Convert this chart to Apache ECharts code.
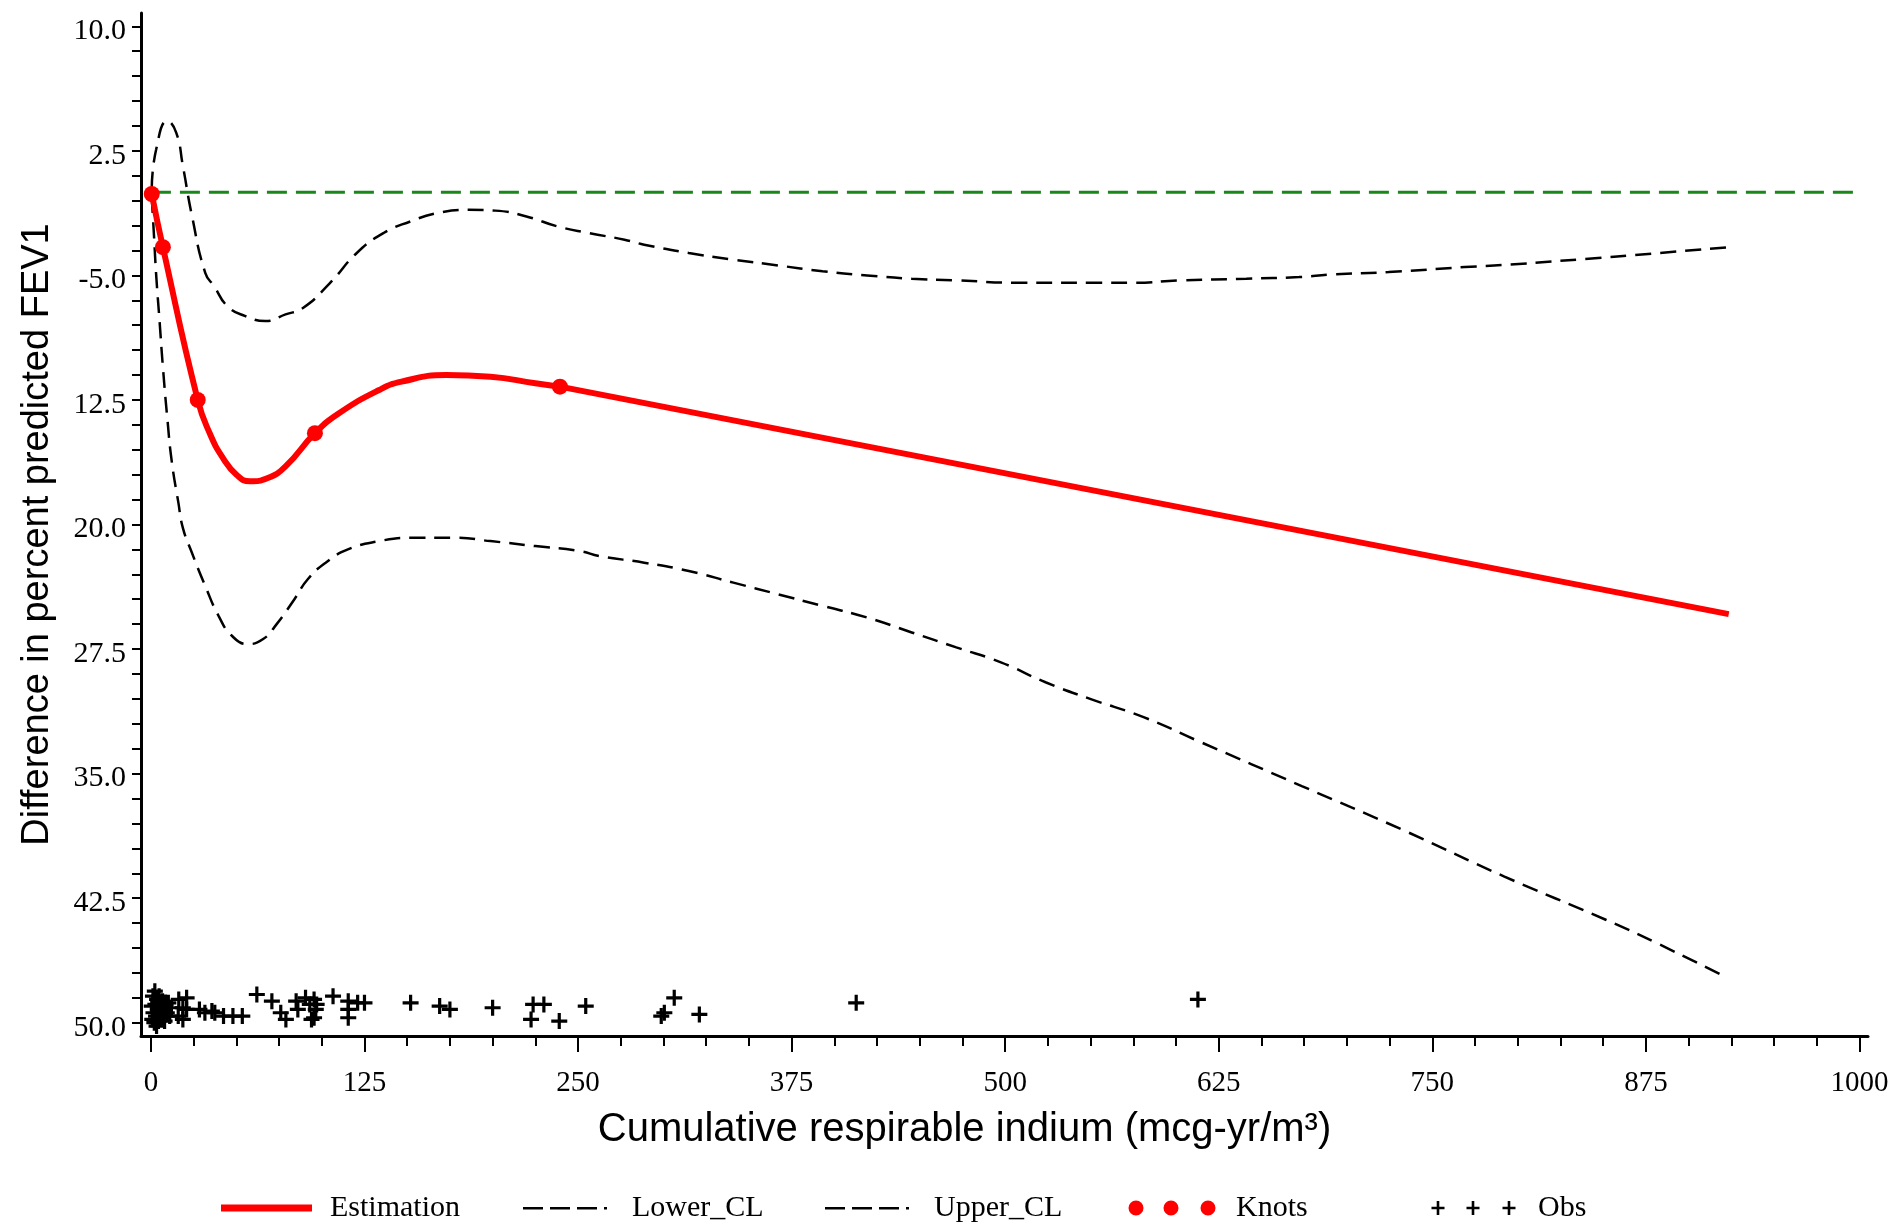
<!DOCTYPE html>
<html>
<head>
<meta charset="utf-8">
<title>FEV1 spline</title>
<script src="https://cdn.jsdelivr.net/npm/echarts@6/dist/echarts.min.js"></script>
<style>
  html, body { margin: 0; padding: 0; background: #fff; }
  #chart { width: 1895px; height: 1222px; }
</style>
</head>
<body>
<div id="chart"></div>
<script>
// 估计曲线 (最后一个节点之后为直线)
const estX = [0.5, 7, 27.4, 34.4, 42.2, 50.1, 57.9, 68.4, 78.8, 96, 110.1, 133.6, 146.7, 172.8, 198.8, 225, 239.4]
const estY = [-0.1, -3.3, -12.5, -14.5, -16.0, -17.0, -17.4, -17.2, -16.5, -14.5, -13.3, -11.9, -11.4, -11.0, -11.1, -11.5, -11.7]
const estTailX = [239.4, 923.5]
const estTailY = [-11.7, -25.4]

// 置信区间下限
const lowerX = [0.5, 1.8, 3.1, 5.1, 7, 9.6, 12.2, 16.1, 18.7, 24, 31.8, 39.6, 47.4, 56.6, 65.7, 73.6, 84, 91.8, 102.3, 115.3, 133.6, 151.9, 178, 198.8, 225, 251.1, 262.6, 288.7, 314.8, 340.9, 367, 393.1, 419.2, 445.3, 471.4, 497.5, 523.6, 549.7, 581, 614.3, 673.6, 732.9, 792.2, 851.5, 881.2, 922.7]
const lowerY = [-0.3, -2.6, -5.0, -7.8, -10.5, -13.6, -16.2, -18.7, -20.2, -21.7, -23.7, -25.5, -26.7, -27.2, -26.9, -26.0, -24.5, -23.3, -22.3, -21.5, -21.0, -20.8, -20.8, -21.0, -21.3, -21.6, -21.9, -22.3, -22.8, -23.5, -24.2, -24.9, -25.6, -26.5, -27.4, -28.3, -29.5, -30.5, -31.6, -33.1, -35.75, -38.4, -41.2, -43.8, -45.2, -47.3]

// 置信区间上限
const upperX = [0.5, 3.1, 9.6, 14.8, 18.7, 24, 31.8, 37, 44.8, 55.3, 67, 78.8, 89.2, 104.9, 120.5, 136.2, 151.9, 167.5, 185.8, 201.5, 219.8, 238, 256.3, 277.2, 288.7, 314.8, 340.9, 367, 393.1, 419.2, 445.3, 471.4, 510.6, 549.7, 575.8, 602, 641.1, 672, 691, 724.4, 769, 795, 847, 865.7, 923.5]
const upperY = [0.3, 2.6, 4.3, 3.6, 1.6, -1.4, -4.85, -5.65, -6.85, -7.45, -7.75, -7.35, -6.95, -5.45, -3.65, -2.45, -1.75, -1.25, -1.05, -1.1, -1.45, -2.05, -2.45, -2.85, -3.15, -3.65, -4.05, -4.4, -4.75, -5.0, -5.2, -5.3, -5.45, -5.45, -5.45, -5.3, -5.2, -5.1, -4.95, -4.8, -4.5, -4.35, -3.95, -3.8, -3.3]

// 节点
const knotX = [0.5, 7, 27.4, 96, 239.4]
const knotY = [-0.1, -3.3, -12.5, -14.5, -11.7]

// 观测值
const obsX = [0.5, 0.8, 1.2, 1.5, 2.0, 2.3, 2.6, 3.0, 3.3, 3.6, 4.0, 4.4, 4.8, 5.2, 5.7, 6.2, 6.8, 7.3, 8.0, 8.6, 9.3, 10.2, 11.0, 12.0,
  16.0, 16.3, 18.7, 18.7, 20.9, 20.9, 28.4, 31.6, 35.7, 37.4, 42.5, 48, 53.5, 62, 70.8, 76, 79, 85, 86, 90.5, 93, 94, 95.5, 96.5, 95.5, 97,
  106.6, 115.5, 115.5, 115.5, 121, 125, 152, 169, 175, 200, 223.7, 222.5, 230, 239, 254.5, 298.7, 300.5, 306.3, 321, 412.8, 612.8]
const obsY = [-49.0, -49.8, -48.4, -49.4, -50.0, -48.1, -48.9, -49.6, -50.2, -48.6, -49.2, -49.9, -48.4, -49.5, -48.9, -49.7, -48.7, -49.3, -49.9, -48.9, -49.4, -48.8, -49.6, -49.1,
  -49.6, -48.6, -49.1, -49.8, -48.5, -49.2, -49.2, -49.4, -49.3, -49.4, -49.6, -49.6, -49.6, -48.3, -48.7, -49.4, -49.8, -48.7, -49.2, -48.5, -48.9, -49.8, -48.6, -49.2, -49.7, -48.9,
  -48.4, -48.7, -49.2, -49.7, -48.8, -48.8, -48.8, -49.0, -49.2, -49.1, -48.9, -49.8, -48.9, -49.9, -49.0, -49.6, -49.4, -48.5, -49.5, -48.8, -48.6]

// 参考线 y = 0
const refX = [0, 1000]
const refY = [0, 0]

// 坐标轴刻度
const xLabelValues = [0, 125, 250, 375, 500, 625, 750, 875, 1000]
const yLabelValues = [10, 2.5, -5, -12.5, -20, -27.5, -35, -42.5, -50]
const yLabelText = ['10.0', '2.5', '-5.0', '12.5', '20.0', '27.5', '35.0', '42.5', '50.0']

const legendNames = ['Estimation', 'Lower_CL', 'Upper_CL', 'Knots', 'Obs']

const zip = (xs, ys) => xs.map((x, i) => [x, ys[i]])

const xMinorTicks = []
for (let v = 0; v <= 1000; v += 25) xMinorTicks.push(v)
const yMinorTicks = []
for (let k = 0; k <= 40; k++) yMinorTicks.push(Math.round((-50 + k * 1.5) * 10) / 10)

const serif = "'Liberation Serif', 'Times New Roman', serif"
const sans = "'Liberation Sans', Arial, sans-serif"

const plusPath = 'path://M6,0H9V6H15V9H9V15H6V9H0V6H6Z'
// 图例图标 (91x18 的框, 四角锚点保证比例)
const box = 'M0,0L0,0M91,18L91,18'
const iconEst = 'path://' + box + 'M0,5.5H91V12.5H0Z'
const iconDash = 'path://' + box + 'M0,8H20V10.5H0ZM27,8H47V10.5H27ZM54,8H74V10.5H54ZM81,8H84V10.5H81Z'
const circ = (cx) => 'M' + (cx - 7.5) + ',9A7.5,7.5 0 1,0 ' + (cx + 7.5) + ',9A7.5,7.5 0 1,0 ' + (cx - 7.5) + ',9Z'
const iconKnots = 'path://' + box + circ(9) + circ(44) + circ(81)
const plus = (cx) => 'M' + (cx - 1.3) + ',2H' + (cx + 1.3) + 'V7.7H' + (cx + 6.5) + 'V10.3H' + (cx + 1.3) + 'V16H' + (cx - 1.3) + 'V10.3H' + (cx - 6.5) + 'V7.7H' + (cx - 1.3) + 'Z'
const iconObs = 'path://' + box + plus(9) + plus(44) + plus(80)
const legendIcons = [iconEst, iconDash, iconDash, iconKnots, iconObs]

// 每个图例单独定位, 间距固定
const legends = legendNames.map((name, i) => ({
  left: 216 + 302 * i,
  top: 1188,
  itemWidth: 91,
  itemHeight: 18,
  selectedMode: false,
  itemStyle: { borderWidth: 0 },
  textStyle: { fontFamily: serif, fontSize: 30, color: '#000', padding: [0, 0, 0, 13] },
  data: [{ name: name, icon: legendIcons[i] }]
}))

const axisCommonX = {
  type: 'value',
  min: -5.8,
  max: 1005,
  position: 'bottom',
  offset: 0,
  splitLine: { show: false }
}

const chart = echarts.init(document.getElementById('chart'))

const option = {
  backgroundColor: '#fff',
  animation: false,
  grid: { left: 141, right: 27, top: 13, bottom: 186, containLabel: false },
  xAxis: [
    Object.assign({}, axisCommonX, {
      name: 'Cumulative respirable indium (mcg-yr/m³)',
      nameLocation: 'middle',
      nameGap: 74,
      nameTextStyle: { fontFamily: sans, fontSize: 40, color: '#000', padding: [0, 80, 0, 0] },
      axisLine: { show: true, onZero: false, lineStyle: { color: '#000', width: 3 } },
      axisTick: { show: true, customValues: xMinorTicks, length: 10, lineStyle: { color: '#000', width: 2 } },
      axisLabel: { customValues: xLabelValues, margin: 33, fontFamily: serif, fontSize: 29, color: '#000', formatter: (v) => String(v) }
    }),
    Object.assign({}, axisCommonX, {
      axisLine: { show: false, onZero: false },
      axisTick: { show: true, customValues: xLabelValues, length: 16, lineStyle: { color: '#000', width: 2 } },
      axisLabel: { show: false }
    })
  ],
  yAxis: {
    type: 'value',
    min: -50.8,
    max: 10.8,
    name: 'Difference in percent predicted FEV1',
    nameLocation: 'middle',
    nameGap: 84,
    nameTextStyle: { fontFamily: sans, fontSize: 38, color: '#000', padding: [0, 20, 0, 0] },
    axisLine: { show: true, onZero: false, lineStyle: { color: '#000', width: 3 } },
    axisTick: { show: true, customValues: yMinorTicks, length: 9, lineStyle: { color: '#000', width: 2 } },
    axisLabel: {
      customValues: yLabelValues,
      margin: 15,
      fontFamily: serif,
      fontSize: 30,
      color: '#000',
      verticalAlign: 'top',
      lineHeight: 10,
      formatter: (v) => {
        const i = yLabelValues.indexOf(v)
        return i >= 0 ? yLabelText[i] : ''
      }
    },
    splitLine: { show: false }
  },
  legend: legends,
  series: [
    {
      name: 'ref',
      type: 'line',
      data: zip(refX, refY),
      symbol: 'none',
      silent: true,
      lineStyle: { color: '#1a871a', width: 3, type: [20, 9] },
      z: 1
    },
    {
      name: 'Lower_CL',
      type: 'line',
      data: zip(lowerX, lowerY),
      symbol: 'none',
      smooth: 0.5,
      itemStyle: { color: '#000' },
      lineStyle: { color: '#000', width: 2.5, type: [16, 9] },
      z: 2
    },
    {
      name: 'Upper_CL',
      type: 'line',
      data: zip(upperX, upperY),
      symbol: 'none',
      smooth: 0.5,
      itemStyle: { color: '#000' },
      lineStyle: { color: '#000', width: 2.5, type: [16, 9] },
      z: 2
    },
    {
      name: 'Obs',
      type: 'scatter',
      data: zip(obsX, obsY),
      symbol: plusPath,
      symbolSize: 16,
      itemStyle: { color: '#000', opacity: 1 },
      z: 3
    },
    {
      name: 'Estimation',
      type: 'line',
      data: zip(estX, estY),
      symbol: 'none',
      smooth: 0.5,
      itemStyle: { color: '#ff0000' },
      lineStyle: { color: '#ff0000', width: 6 },
      z: 4
    },
    {
      name: 'Estimation',
      type: 'line',
      data: zip(estTailX, estTailY),
      symbol: 'none',
      itemStyle: { color: '#ff0000' },
      lineStyle: { color: '#ff0000', width: 6 },
      z: 4
    },
    {
      name: 'Knots',
      type: 'scatter',
      data: zip(knotX, knotY),
      symbol: 'circle',
      symbolSize: 16,
      itemStyle: { color: '#ff0000', opacity: 1 },
      z: 5
    }
  ]
}

chart.setOption(option)
</script>
</body>
</html>
